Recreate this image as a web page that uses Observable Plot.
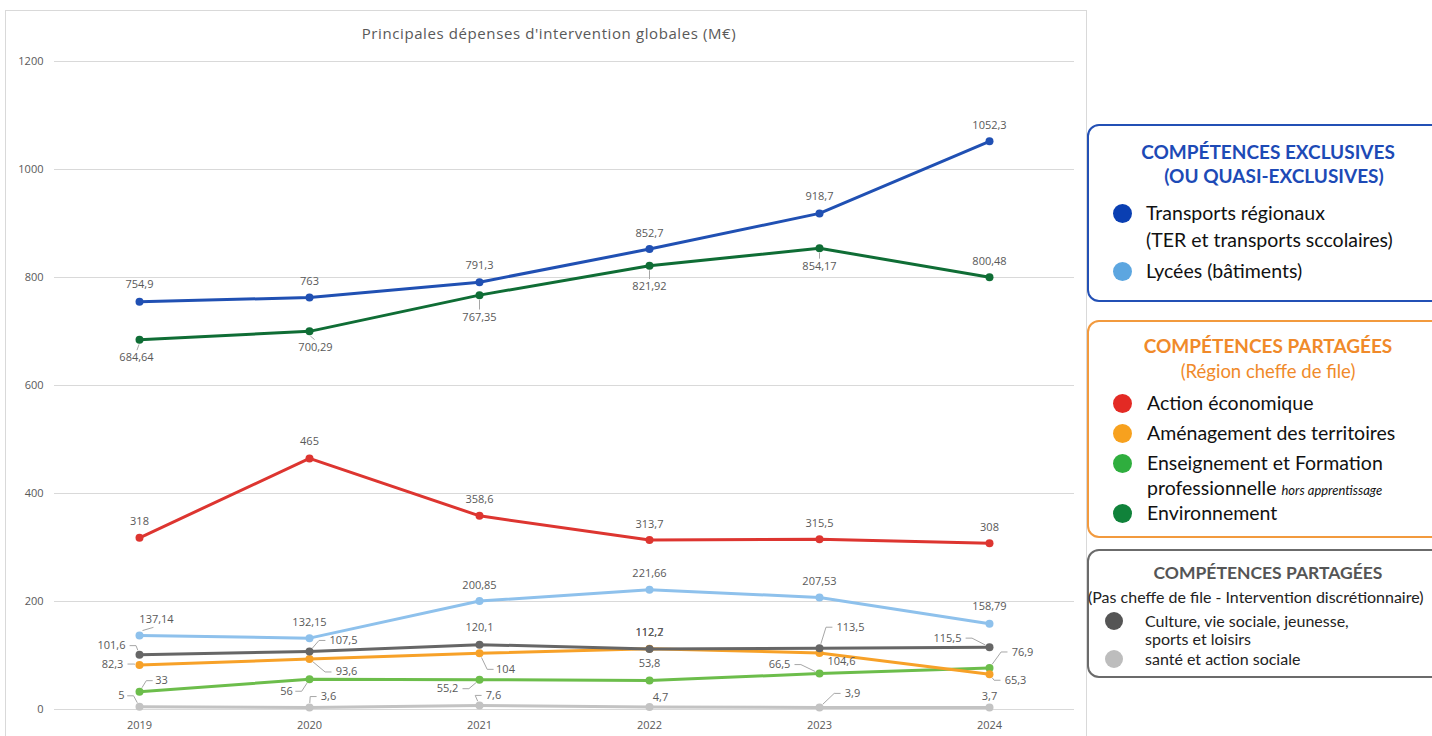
<!DOCTYPE html>
<html><head><meta charset="utf-8">
<script src="https://cdn.jsdelivr.net/npm/d3@7"></script>
<script src="https://cdn.jsdelivr.net/npm/@observablehq/plot@0.6"></script>
<style>
html,body{margin:0;padding:0;background:#fff;overflow:hidden;width:1432px;height:736px;}
#panel{position:absolute;left:5px;top:10px;width:1082px;height:740px;border:1px solid #d9d9d9;box-sizing:border-box;}
#title{position:absolute;left:0;top:23px;width:1098px;text-align:center;font-family:"Open Sans",sans-serif;font-size:15px;letter-spacing:0.6px;color:#595959;line-height:20px;}
#chart{position:absolute;left:0;top:45px;}
.box{position:absolute;left:1087px;width:362px;background:#fff;border-radius:12px;box-sizing:border-box;font-family:Lato,"Open Sans",sans-serif;}
.ln{position:absolute;left:0;white-space:nowrap;height:24px;line-height:24px;}
.ctr{width:100%;text-align:center;}
.dot{position:absolute;width:19px;height:19px;border-radius:50%;}
</style></head>
<body>
<div id="panel"></div>
<div id="title">Principales dépenses d'intervention globales (M€)</div>
<div id="chart"></div>
<div id="legend"></div>
<script>
// ---- data ----
const years = [2019, 2020, 2021, 2022, 2023, 2024];
const transports = [754.9, 763, 791.3, 852.7, 918.7, 1052.3];
const lycees = [137.14, 132.15, 200.85, 221.66, 207.53, 158.79];
const actionEco = [318, 465, 358.6, 313.7, 315.5, 308];
const amenagement = [82.3, 93.6, 104, 112.7, 104.6, 65.3];
const enseignement = [33, 56, 55.2, 53.8, 66.5, 76.9];
const environnement = [684.64, 700.29, 767.35, 821.92, 854.17, 800.48];
const culture = [101.6, 107.5, 120.1, 112.2, 113.5, 115.5];
const sante = [5, 3.6, 7.6, 4.7, 3.9, 3.7];
const yTicks = [0, 200, 400, 600, 800, 1000, 1200];

// ---- label placement (pixels relative to point: dx, dy, leader) ----
const labelOffsets = {
  transports: [[0,-17],[0,-16],[0,-17],[0,-16],[0,-17],[0,-16]],
  environnement: [[-3,18,1],[6,16,1],[0,22,1],[0,21,1],[0,18,1],[0,-16]],
  actionEco: [[0,-16],[0,-17],[0,-16],[0,-16],[0,-16],[0,-16]],
  lycees: [[17,-16,1],[0,-16],[0,-16],[0,-16],[0,-16],[0,-17]],
  culture: [[-28,-9,1],[34,-11,1],[0,-17],[0,-16],[31,-21,1],[-42,-9,1]],
  amenagement: [[-27,-1,1],[37,13,1],[26,16,1],[0,-16],[22,8],[26,6,1]],
  enseignement: [[22,-11,1],[-23,12,1],[-32,9,1],[0,-17],[-40,-9,1],[33,-16,1]],
  sante: [[-18,-11,1],[19,-11,1],[14,-10,1],[11,-9],[33,-14,1],[0,-11]]
};

const series = [
  {key:"sante", values:sante, color:"#c3c3c3"},
  {key:"enseignement", values:enseignement, color:"#6cbd4b"},
  {key:"amenagement", values:amenagement, color:"#f7a128"},
  {key:"culture", values:culture, color:"#666666"},
  {key:"lycees", values:lycees, color:"#8ec1ec"},
  {key:"actionEco", values:actionEco, color:"#dd3530"},
  {key:"environnement", values:environnement, color:"#0f6d35"},
  {key:"transports", values:transports, color:"#2050b3"}
];

const W = 1090, H = 691, mL = 54, mR = 16, mT = 16, mB = 27;
const xDomain = [2018.5, 2024.5], yDomain = [0, 1200];
const kx = (xDomain[1]-xDomain[0]) / (W - mL - mR);
const ky = (yDomain[1]-yDomain[0]) / (H - mT - mB);
const fmt = v => String(v).replace(".", ",");

const labels = [], leaders = [];
series.forEach(s => {
  s.values.forEach((v, i) => {
    const [dx, dy, lead] = labelOffsets[s.key][i];
    const txt = fmt(v);
    labels.push({x: years[i] + dx*kx, y: v - dy*ky, text: txt});
    if (lead) {
      const hw = txt.length*3.1 + 2, id = s.key + i;
      let pts;
      if (Math.abs(dx) < hw) {
        const sy = Math.sign(dy);
        pts = [[dx*0.2, sy*5], [dx*0.8, dy - sy*8]];
      } else {
        const sx = Math.sign(dx);
        const ex = dx - sx*(hw+1), bx = ex - sx*6;
        const len = Math.hypot(bx, dy) || 1;
        pts = [[ex, dy], [bx, dy], [bx/len*5, dy/len*5]];
      }
      pts.forEach(([px, py], j) => leaders.push({id, j, x: years[i] + px*kx, y: v - py*ky}));
    }
  });
});

const marks = [
  Plot.ruleY(yTicks, {stroke:"#d9d9d9", strokeWidth:1})
];
series.forEach(s => {
  const rows = s.values.map((v,i) => ({year: years[i], value: v}));
  marks.push(Plot.line(rows, {x:"year", y:"value", stroke:s.color, strokeWidth:3, strokeLinejoin:"round"}));
  marks.push(Plot.dot(rows, {x:"year", y:"value", fill:s.color, r:4}));
});
marks.push(Plot.line(leaders, {x:"x", y:"y", z:"id", stroke:"#a6a6a6", strokeWidth:1}));
marks.push(Plot.text(labels, {x:"x", y:"y", text:"text", fill:"#595959", fontSize:11}));

const chart = Plot.plot({
  width: W, height: H,
  marginLeft: mL, marginRight: mR, marginTop: mT, marginBottom: mB,
  style: {fontFamily:"'Open Sans', sans-serif", fontSize:"11px", color:"#595959", background:"transparent", overflow:"visible"},
  x: {type:"linear", domain:xDomain, ticks:6, tickFormat:d => String(d), tickSize:0, tickPadding:12, label:null},
  y: {domain:yDomain, ticks:6, tickSize:0, tickPadding:11, label:null, tickFormat:d => String(d)},
  marks
});
document.getElementById("chart").appendChild(chart);

// ---- legend (HTML) ----
const legend = document.getElementById("legend");
function box(top, height, border) {
  const b = document.createElement("div");
  b.className = "box";
  b.style.top = top + "px"; b.style.height = height + "px";
  b.style.border = "2px solid " + border;
  legend.appendChild(b);
  return {b, top};
}
function line(bx, cy, html, style, centered, left) {
  const d = document.createElement("div");
  d.className = "ln" + (centered ? " ctr" : "");
  d.style.top = (cy - bx.top - 12 - 2) + "px";
  if (!centered) d.style.left = (left - 1087 - 2) + "px";
  Object.assign(d.style, style);
  d.innerHTML = html;
  bx.b.appendChild(d);
}
function dot(bx, cx, cy, color, size) {
  const d = document.createElement("div");
  d.className = "dot";
  const s = size || 19;
  d.style.width = s + "px"; d.style.height = s + "px";
  d.style.left = (cx - s/2 - 1087 - 2) + "px";
  d.style.top = (cy - s/2 - bx.top - 2) + "px";
  d.style.background = color;
  bx.b.appendChild(d);
}
const b1 = box(124, 178, "#2350b5");
const h1 = {fontWeight:"700", fontSize:"19px", color:"#1d4ab6"};
line(b1, 152, "COMPÉTENCES EXCLUSIVES", h1, true);
line(b1, 176, "(OU QUASI-EXCLUSIVES)", Object.assign({}, h1, {paddingLeft:"12px", boxSizing:"border-box"}), true);
const it = {fontSize:"19.5px", color:"#111"};
dot(b1, 1122, 213, "#0a3fb2");
line(b1, 213, "Transports régionaux", it, false, 1146);
line(b1, 240, "(TER et transports sccolaires)", it, false, 1146);
dot(b1, 1122, 271, "#5ca6e0");
line(b1, 271, "Lycées (bâtiments)", it, false, 1146);

const b2 = box(320, 218, "#f29a3e");
line(b2, 346, "COMPÉTENCES PARTAGÉES", {fontWeight:"700", fontSize:"19px", color:"#f08a2a"}, true);
line(b2, 371, "(Région cheffe de file)", {fontSize:"18.5px", color:"#f08a2a"}, true);
dot(b2, 1122, 403, "#e32a24");
line(b2, 403, "Action économique", it, false, 1147);
dot(b2, 1122, 433, "#f7a11e");
line(b2, 433, "Aménagement des territoires", it, false, 1147);
dot(b2, 1122, 463, "#2fae3e");
line(b2, 463, "Enseignement et Formation", it, false, 1147);
line(b2, 488, "professionnelle <i style='font-size:13px'>hors apprentissage</i>", it, false, 1147);
dot(b2, 1122, 513, "#10823a");
line(b2, 513, "Environnement", it, false, 1147);

const b3 = box(549, 129, "#6b6b6b");
line(b3, 573, "COMPÉTENCES PARTAGÉES", {fontWeight:"700", fontSize:"17.5px", color:"#555"}, true);
line(b3, 597, "(Pas cheffe de file - Intervention discrétionnaire)", {fontSize:"16px", color:"#222"}, false, 1088);
dot(b3, 1114, 621, "#555", 18);
line(b3, 621, "Culture, vie sociale, jeunesse,", {fontSize:"16px", color:"#222"}, false, 1145);
line(b3, 639, "sports et loisirs", {fontSize:"16px", color:"#222"}, false, 1145);
dot(b3, 1114, 659, "#bdbdbd", 18);
line(b3, 659, "santé et action sociale", {fontSize:"16px", color:"#222"}, false, 1145);
</script>
</body></html>
